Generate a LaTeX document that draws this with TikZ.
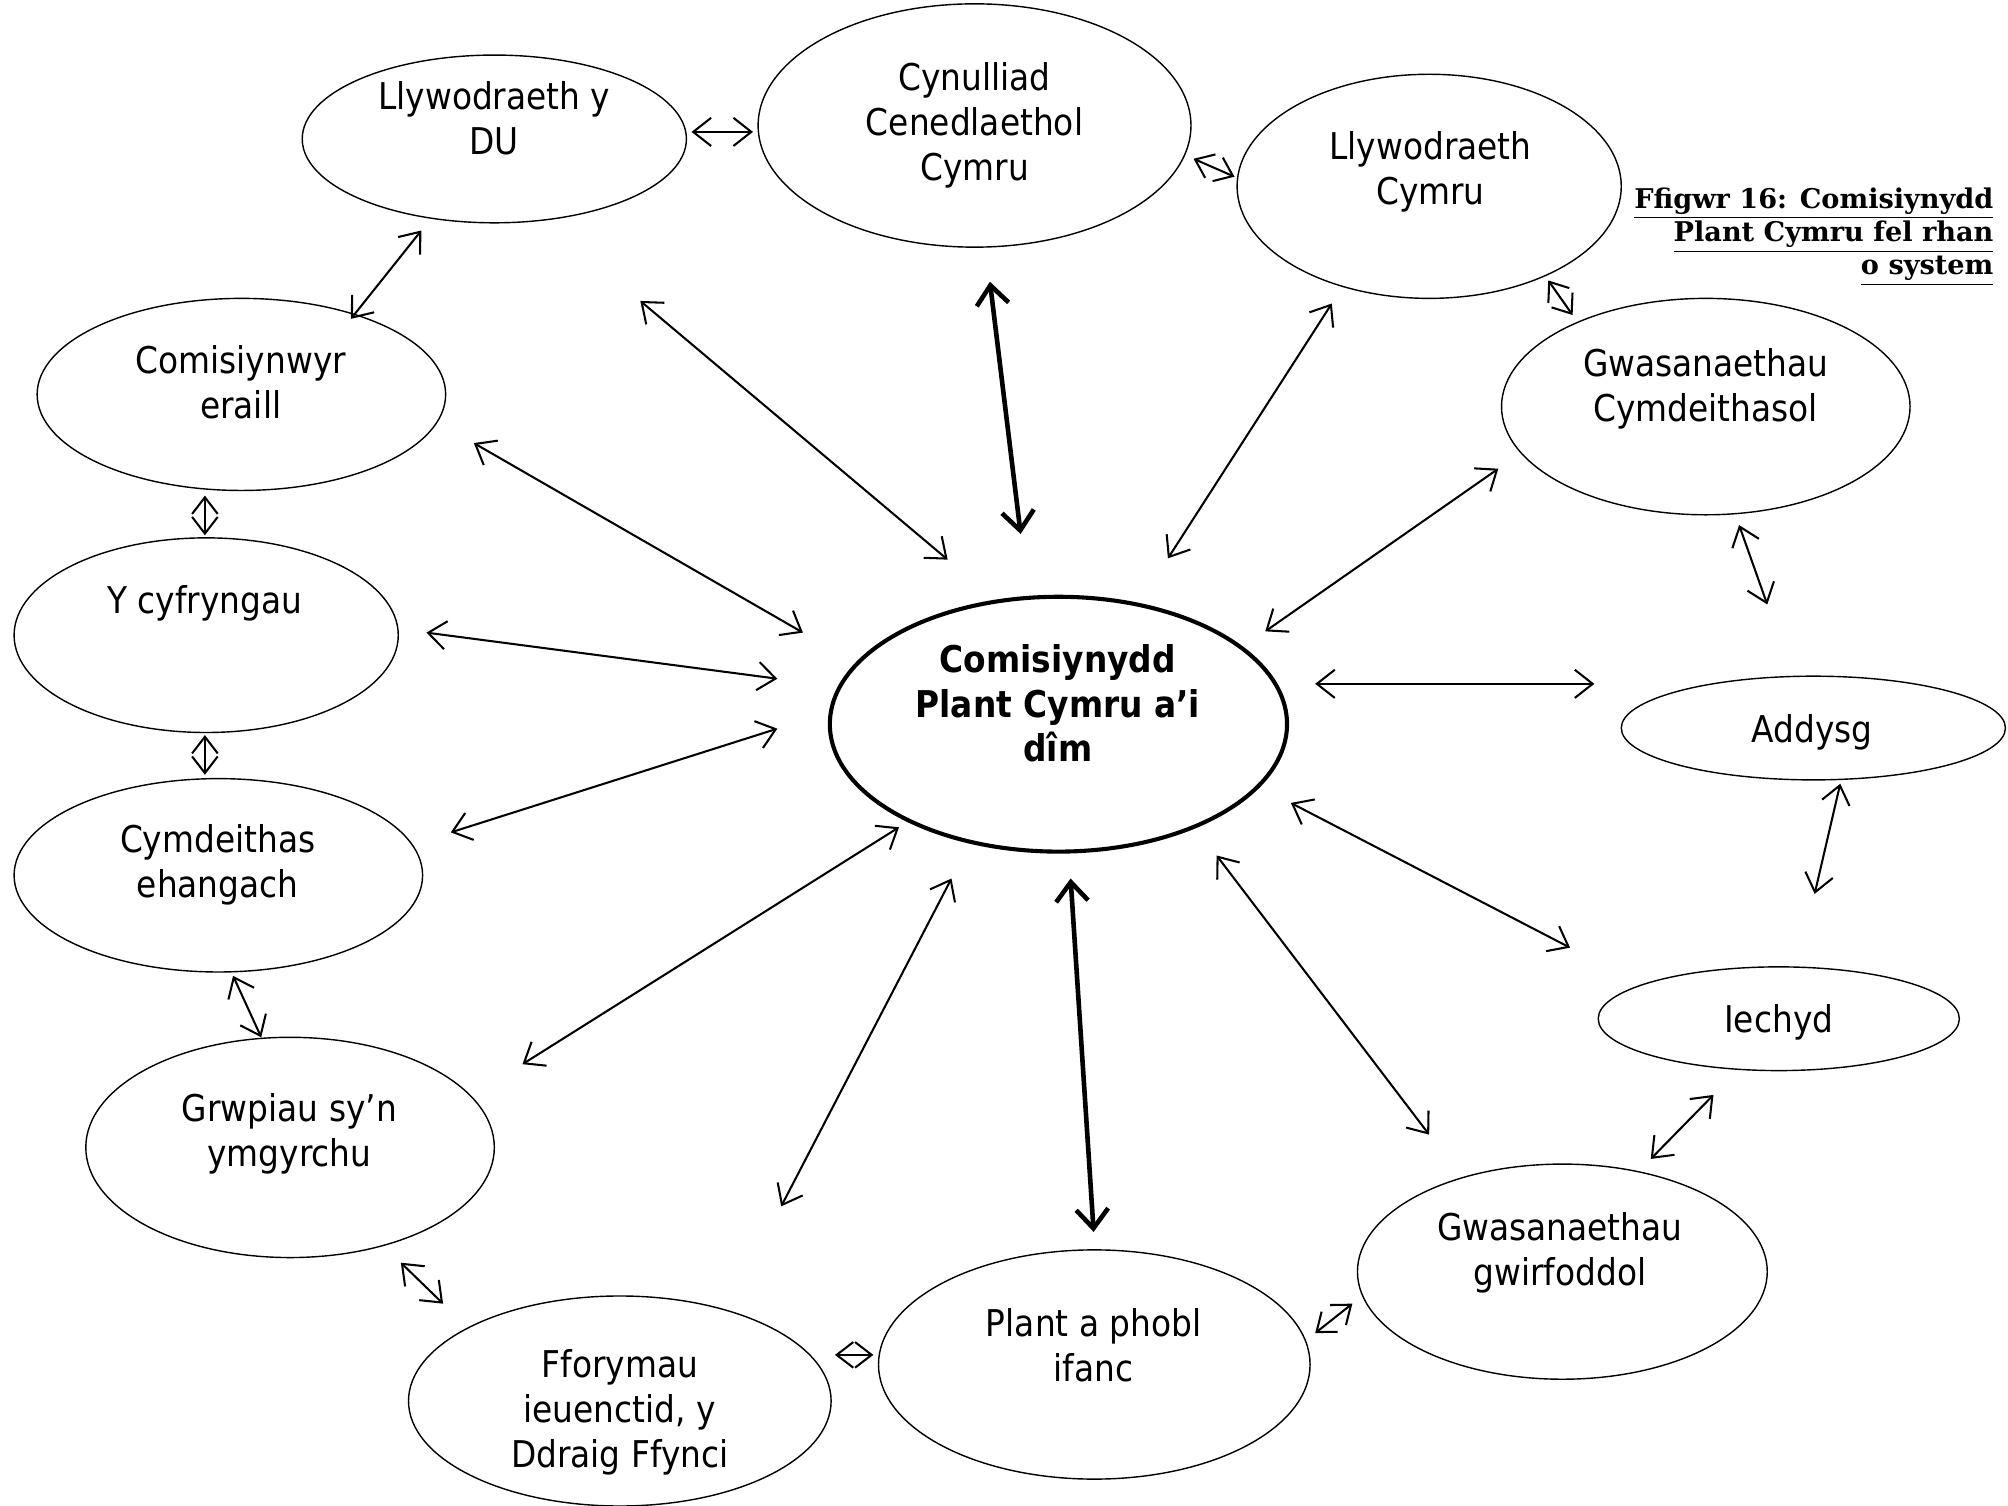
\documentclass[tikz,border=0pt]{standalone}
\usepackage{fontspec}
\setmainfont[FakeStretch=0.89]{DejaVu Sans}
\newfontfamily\capfont{DejaVu Serif}
\usetikzlibrary{shapes.geometric,arrows.meta}
\tikzset{
  bub/.style={ellipse, draw, line width=0.55pt, inner sep=0pt, outer sep=0pt},
  hub/.style={ellipse, draw, line width=1.6pt, inner sep=0pt, outer sep=0pt},
  txt/.style={anchor=north, align=center, inner sep=0pt, font=\fontsize{14.4pt}{17.5pt}\selectfont},
  arr/.style={{Straight Barb[length=7pt,width=11pt]}-{Straight Barb[length=7pt,width=11pt]}, line width=0.8pt},
  midarr/.style={{Straight Barb[length=6.5pt,width=10pt]}-{Straight Barb[length=6.5pt,width=10pt]}, line width=0.8pt},
  thickarr/.style={{Straight Barb[length=7.5pt,width=12.5pt]}-{Straight Barb[length=7.5pt,width=12.5pt]}, line width=1.8pt},
}
\begin{document}
\begin{tikzpicture}[x=0.5pt,y=-0.5pt]
\useasboundingbox (0,0) rectangle (1568,1176);
% ellipses
\node[bub, minimum width=150pt, minimum height=65.5pt] (dU) at (386,108.5) {};
\node[bub, minimum width=169pt, minimum height=95pt] (cyn) at (761,98) {};
\node[bub, minimum width=150pt, minimum height=87.5pt] (lc) at (1116,145.5) {};
\node[bub, minimum width=159.5pt, minimum height=84.5pt] (gc) at (1332,317.5) {};
\node[bub, minimum width=150pt, minimum height=40.5pt] (add) at (1416,568.5) {};
\node[bub, minimum width=141pt, minimum height=40.5pt] (iech) at (1389,795.5) {};
\node[bub, minimum width=160pt, minimum height=84pt] (gw) at (1220,993) {};
\node[bub, minimum width=168.5pt, minimum height=89.5pt] (pl) at (854.5,1065.5) {};
\node[bub, minimum width=165pt, minimum height=82pt] (ff) at (484,1094) {};
\node[bub, minimum width=159.5pt, minimum height=86pt] (grw) at (226.5,896) {};
\node[bub, minimum width=159.5pt, minimum height=75.5pt] (cym) at (170.5,683.5) {};
\node[bub, minimum width=150pt, minimum height=76pt] (cyf) at (161,496) {};
\node[bub, minimum width=159.5pt, minimum height=75pt] (com) at (188.5,308) {};
\node[hub, minimum width=178.5pt, minimum height=99.5pt] (hubn) at (826.5,565.5) {};
% texts
\node[txt] (dUt) at (386,61) {\strut Llywodraeth y\\DU};
\node[txt] (cynt) at (761,46) {\strut Cynulliad\\Cenedlaethol\\Cymru};
\node[txt] (lct) at (1117,100) {\strut Llywodraeth\\Cymru};
\node[txt] (gct) at (1332,269) {\strut Gwasanaethau\\Cymdeithasol};
\node[txt] (addt) at (1415,555) {\strut Addysg};
\node[txt] (iecht) at (1389,781) {\strut Iechyd};
\node[txt] (gwt) at (1218,944) {\strut Gwasanaethau\\gwirfoddol};
\node[txt] (plt) at (854,1019) {\strut Plant a phobl\\ifanc};
\node[txt] (fft) at (484,1051) {\strut Fforymau\\ieuenctid, y\\Ddraig Ffynci};
\node[txt] (grwt) at (226,851) {\strut Grwpiau sy’n\\ymgyrchu};
\node[txt] (cymt) at (170,641) {\strut Cymdeithas\\ehangach};
\node[txt] (cyft) at (160,454) {\strut Y cyfryngau};
\node[txt] (comt) at (188,267) {\strut Comisiynwyr\\eraill};
\node[txt, font=\fontsize{14.4pt}{17.5pt}\selectfont\bfseries] (hubt) at (826,500) {\strut Comisiynydd\\Plant Cymru a’i\\dîm};
% caption
\node[anchor=north east, align=right, inner sep=0pt, font=\capfont\bfseries\fontsize{10.6pt}{13pt}\selectfont] (cap) at (1557,144) {\strut\underline{Ffigwr 16: Comisiynydd}\\\underline{Plant Cymru fel rhan}\\\underline{o system}};
% arrow end points
\coordinate (a1) at (500,235);  \coordinate (b1) at (740,437);
\coordinate (a2) at (773,220);  \coordinate (b2) at (797,417);
\coordinate (a3) at (1040,237); \coordinate (b3) at (912,436);
\coordinate (a4) at (1170,366); \coordinate (b4) at (988,493);
\coordinate (a5) at (1027,534); \coordinate (b5) at (1245,534);
\coordinate (a6) at (1008,627); \coordinate (b6) at (1226,740);
\coordinate (a7) at (950,668);  \coordinate (b7) at (1116,886);
\coordinate (a8) at (836,686);  \coordinate (b8) at (854,962);
\coordinate (a9) at (743,686);  \coordinate (b9) at (610,942);
\coordinate (a10) at (702,646); \coordinate (b10) at (408,831);
\coordinate (a11) at (607,569); \coordinate (b11) at (352,650);
\coordinate (a12) at (607,530); \coordinate (b12) at (333,494);
\coordinate (a13) at (627,494); \coordinate (b13) at (370,346);
\coordinate (p1) at (540,103);  \coordinate (q1) at (588,103);
\coordinate (p2) at (932,124);  \coordinate (q2) at (964,138);
\coordinate (p3) at (1209,219); \coordinate (q3) at (1228,246);
\coordinate (p4) at (1358,410); \coordinate (q4) at (1380,472);
\coordinate (p5) at (1437,612); \coordinate (q5) at (1417,698);
\coordinate (p6) at (1338,855); \coordinate (q6) at (1289,905);
\coordinate (p7) at (1056,1018); \coordinate (q7) at (1027,1041);
\coordinate (p8) at (652,1058); \coordinate (q8) at (682,1058);
\coordinate (p9) at (313,986);  \coordinate (q9) at (346,1018);
\coordinate (p10) at (182,762); \coordinate (q10) at (204,810);
\coordinate (p11) at (160,574); \coordinate (q11) at (160,605);
\coordinate (p12) at (160,387); \coordinate (q12) at (160,418);
\coordinate (p13) at (274,249); \coordinate (q13) at (329,180);
% hub arrows
\foreach \i in {1,3,4,5,6,7,9,10,11,12,13} \draw[arr] (a\i) -- (b\i);
\draw[thickarr] (a2) -- (b2);
\draw[thickarr] (a8) -- (b8);
% ring arrows
\foreach \i in {1,4,5,6,9,10,13} \draw[arr] (p\i) -- (q\i);
\foreach \i in {2,3,7,8,11,12} \draw[midarr] (p\i) -- (q\i);
\end{tikzpicture}
\end{document}
